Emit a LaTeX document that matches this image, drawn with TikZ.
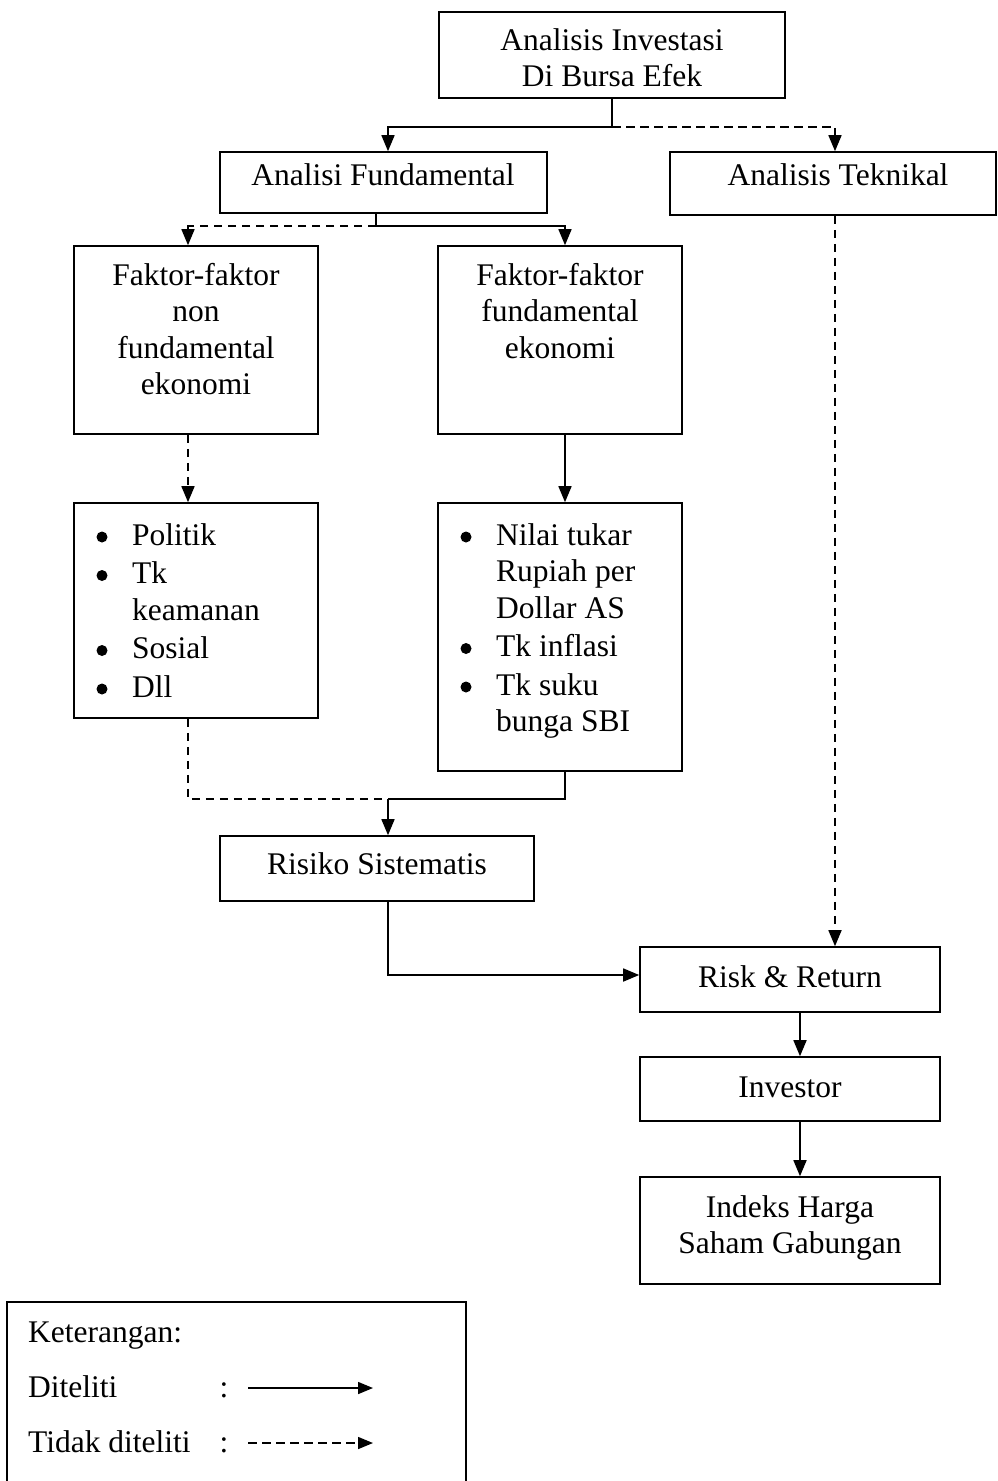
\documentclass[tikz,border=0pt]{standalone}
\usepackage{fontspec}
\setmainfont{Liberation Serif}
\usetikzlibrary{arrows.meta}
\begin{document}
\begin{tikzpicture}[x=1pt,y=-1pt,
  box/.style={draw,line width=1.6pt,inner sep=0pt},
  lbl/.style={inner sep=0pt,font=\fontsize{31.5}{36.5}\selectfont},
  con/.style={line width=1.6pt},
  arr/.style={con,-{Triangle[length=16pt,width=13pt]}},
  larr/.style={con,-{Triangle[length=15pt,width=12pt]}},
  dpat/.style={dash pattern=on 8.5pt off 5.5pt},
  darr/.style={arr,dpat},
  dlarr/.style={larr,dpat},
  dcon/.style={con,dpat}]
\useasboundingbox (0,0) rectangle (997,1481);
% boxes
\node[box,minimum width=346pt,minimum height=86pt] (top) at (612,55) {};
\node[box,minimum width=327pt,minimum height=61pt] (fund) at (383.5,182.5) {};
\node[box,minimum width=326pt,minimum height=63pt] (tek) at (833,183.5) {};
\node[box,minimum width=244pt,minimum height=188pt] (nonf) at (196,340) {};
\node[box,minimum width=244pt,minimum height=188pt] (funf) at (560,340) {};
\node[box,minimum width=244pt,minimum height=215pt] (nonl) at (196,610.5) {};
\node[box,minimum width=244pt,minimum height=268pt] (funl) at (560,637) {};
\node[box,minimum width=314pt,minimum height=65pt] (risiko) at (377,868.5) {};
\node[box,minimum width=300pt,minimum height=65pt] (risk) at (790,979.5) {};
\node[box,minimum width=300pt,minimum height=64pt] (inv) at (790,1089) {};
\node[box,minimum width=300pt,minimum height=107pt] (ihsg) at (790,1230.5) {};
\node[box,minimum width=459pt,minimum height=193pt] (leg) at (236.5,1398.5) {};
% texts (base anchor = baseline of the last line)
\node[lbl,anchor=base,align=center,font=\fontsize{31.5}{36}\selectfont] (ttop) at (612,86) {Analisis Investasi\\Di Bursa Efek};
\node[lbl,anchor=base] (tfund) at (383,185) {Analisi Fundamental};
\node[lbl,anchor=base] (ttek) at (838,185) {Analisis Teknikal};
\node[lbl,anchor=base,align=center] (tnonf) at (196,394.5) {Faktor-faktor\\non\\fundamental\\ekonomi};
\node[lbl,anchor=base,align=center] (tfunf) at (560,358) {Faktor-faktor\\fundamental\\ekonomi};
\node[lbl,anchor=base west,align=left] (tnonl) at (132,697) {Politik\\[2pt]Tk\\keamanan\\[2pt]Sosial\\[2pt]Dll};
\node[lbl,anchor=base west,align=left] (tfunl) at (496,731.5) {Nilai tukar\\Rupiah per\\Dollar AS\\[2pt]Tk inflasi\\[2pt]Tk suku\\bunga SBI};
\foreach \yy in {537,575.5,650.5,689} \fill (102,\yy) circle[radius=5.5pt];
\foreach \yy in {537,648.5,687} \fill (466,\yy) circle[radius=5.5pt];
\node[lbl,anchor=base] (trisiko) at (377,874) {Risiko Sistematis};
\node[lbl,anchor=base] (trisk) at (790,987) {Risk \& Return};
\node[lbl,anchor=base] (tinv) at (790,1097) {Investor};
\node[lbl,anchor=base,align=center,font=\fontsize{31.5}{36}\selectfont] (tihsg) at (790,1253) {Indeks Harga\\Saham Gabungan};
\node[lbl,anchor=base west] (tket) at (28,1342) {Keterangan:};
\node[lbl,anchor=base west] (tdit) at (28,1397) {Diteliti};
\node[lbl,anchor=base] (c1) at (224,1397) {:};
\node[lbl,anchor=base west] (ttdk) at (28,1452) {Tidak diteliti};
\node[lbl,anchor=base] (c2) at (224,1452) {:};
% connectors
\coordinate (j1) at (612,127);
\draw[con] (top.south) -- (j1);
\draw[arr] (j1) -| ([xshift=4.5pt]fund.north);
\draw[darr] (j1) -| ([xshift=2pt]tek.north);
\coordinate (j2) at (376,226);
\draw[con] ([xshift=-7.5pt]fund.south) -- (j2);
\draw[darr] (j2) -| ([xshift=-8pt]nonf.north);
\draw[arr] (j2) -| ([xshift=5pt]funf.north);
\draw[darr] ([xshift=-8pt]nonf.south) -- ([xshift=-8pt]nonl.north);
\draw[arr] ([xshift=5pt]funf.south) -- ([xshift=5pt]funl.north);
\coordinate (j3) at (388,799);
\draw[dcon] ([xshift=-8pt]nonl.south) |- (j3);
\draw[con] ([xshift=5pt]funl.south) |- (j3);
\draw[arr] (j3) -- ([xshift=11pt]risiko.north);
\draw[arr] ([xshift=11pt]risiko.south) |- ([yshift=4.5pt]risk.west);
\draw[darr] ([xshift=2pt]tek.south) -- ([xshift=45pt]risk.north);
\draw[arr] ([xshift=10pt]risk.south) -- ([xshift=10pt]inv.north);
\draw[arr] ([xshift=10pt]inv.south) -- ([xshift=10pt]ihsg.north);
% legend arrows
\coordinate (ls1) at (248,1388);
\coordinate (ls2) at (373,1388);
\coordinate (ld1) at (248,1443);
\coordinate (ld2) at (373,1443);
\draw[larr] (ls1) -- (ls2);
\draw[dlarr] (ld1) -- (ld2);
\end{tikzpicture}
\end{document}
